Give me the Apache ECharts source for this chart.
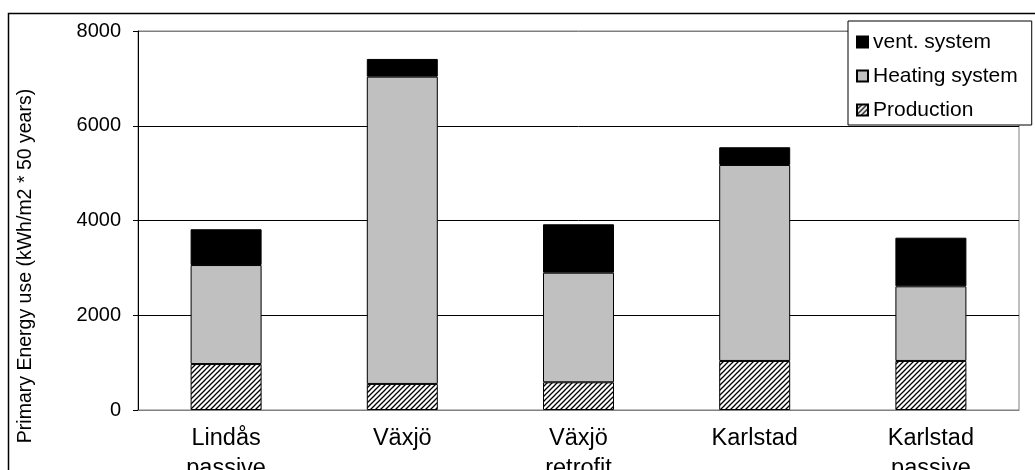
<!DOCTYPE html>
<html>
<head>
<meta charset="utf-8">
<script src="https://cdn.jsdelivr.net/npm/echarts@6/dist/echarts.min.js"></script>
<style>
html,body{margin:0;padding:0;background:#fff;}
#chart{width:1035px;height:470px;}
</style>
</head>
<body>
<div id="chart"></div>
<script>
// ---- data ----
const categories = ['Lindås\npassive', 'Växjö', 'Växjö\nretrofit', 'Karlstad', 'Karlstad\npassive'];
const production = [970, 550, 585, 1035, 1035];
const heatingSystem = [2090, 6486, 2313, 4137, 1576];
const ventSystem = [755, 374, 1022, 374, 1026];
const yTicks = [0, 2000, 4000, 6000, 8000];
const yTitle = 'Primary Energy use (kWh/m2 * 50 years)';

// hatch pattern (////)
function makeHatch() {
  const s = 5;
  const c = document.createElement('canvas');
  c.width = s; c.height = s;
  const g = c.getContext('2d');
  g.fillStyle = '#fff';
  g.fillRect(0, 0, s, s);
  g.strokeStyle = '#000';
  g.lineWidth = 1.3;
  g.beginPath();
  g.moveTo(-1, s + 1); g.lineTo(s + 1, -1);
  g.moveTo(-1, 1); g.lineTo(1, -1);
  g.moveTo(s - 1, s + 1); g.lineTo(s + 1, s - 1);
  g.stroke();
  return c;
}
const hatch = { image: makeHatch(), repeat: 'repeat' };

const FONT = '"Liberation Sans", Arial, sans-serif';
const chart = echarts.init(document.getElementById('chart'), null, { renderer: 'canvas' });

const barCommon = {
  type: 'bar',
  stack: 'total',
  barWidth: 71
};

chart.setOption({
  animation: false,
  backgroundColor: '#fff',
  textStyle: { fontFamily: FONT },
  grid: {
    left: 138, top: 31, right: 16, bottom: 60,
    containLabel: false,
    outerBoundsMode: 'none',
    show: true, borderColor: '#808080', borderWidth: 1, backgroundColor: 'transparent'
  },
  legend: {
    orient: 'vertical',
    left: 848, top: 21,
    padding: [10, 14, 4, 8],
    itemGap: 12,
    itemWidth: 11, itemHeight: 11,
    itemTextGap: 6,
    icon: 'rect',
    backgroundColor: '#fff',
    borderColor: '#000',
    borderWidth: 1,
    textStyle: { fontFamily: FONT, fontSize: 21, color: '#000', lineHeight: 22 },
    data: ['vent. system', 'Heating system', 'Production']
  },
  xAxis: {
    type: 'category',
    data: categories,
    axisLine: { show: true, lineStyle: { color: '#808080', width: 1 } },
    axisTick: { show: false },
    axisLabel: { color: '#000', fontFamily: FONT, fontSize: 23.5, lineHeight: 30, margin: 14, interval: 0 }
  },
  yAxis: {
    type: 'value',
    min: yTicks[0], max: yTicks[yTicks.length - 1], interval: 2000,
    axisLine: { show: true, lineStyle: { color: '#000', width: 1 } },
    axisTick: { show: true, length: 5, inside: false, lineStyle: { color: '#000' } },
    axisLabel: { color: '#000', fontFamily: FONT, fontSize: 20, margin: 17, formatter: v => String(v) },
    splitLine: { show: true, lineStyle: { color: ['#808080', '#000', '#000', '#000', '#808080'], width: 1 } }
  },
  graphic: [{
    type: 'rect',
    shape: { x: 8.5, y: 13.5, width: 1100, height: 600 },
    style: { fill: 'none', stroke: '#000', lineWidth: 1.5 },
    silent: true, z: 100
  }, {
    type: 'text',
    x: 26, y: 266,
    rotation: Math.PI / 2,
    style: {
      text: yTitle,
      fontFamily: FONT, fontSize: 19.5, fill: '#000',
      align: 'center', verticalAlign: 'middle'
    },
    silent: true
  }],
  series: [
    Object.assign({}, barCommon, { name: 'Production', data: production, itemStyle: { color: hatch, borderColor: '#000', borderWidth: 1 } }),
    Object.assign({}, barCommon, { name: 'Heating system', data: heatingSystem, itemStyle: { color: '#c0c0c0', borderColor: '#000', borderWidth: 1 } }),
    Object.assign({}, barCommon, { name: 'vent. system', data: ventSystem, itemStyle: { color: '#000', borderColor: '#000', borderWidth: 1 } })
  ]
});
</script>
</body>
</html>
